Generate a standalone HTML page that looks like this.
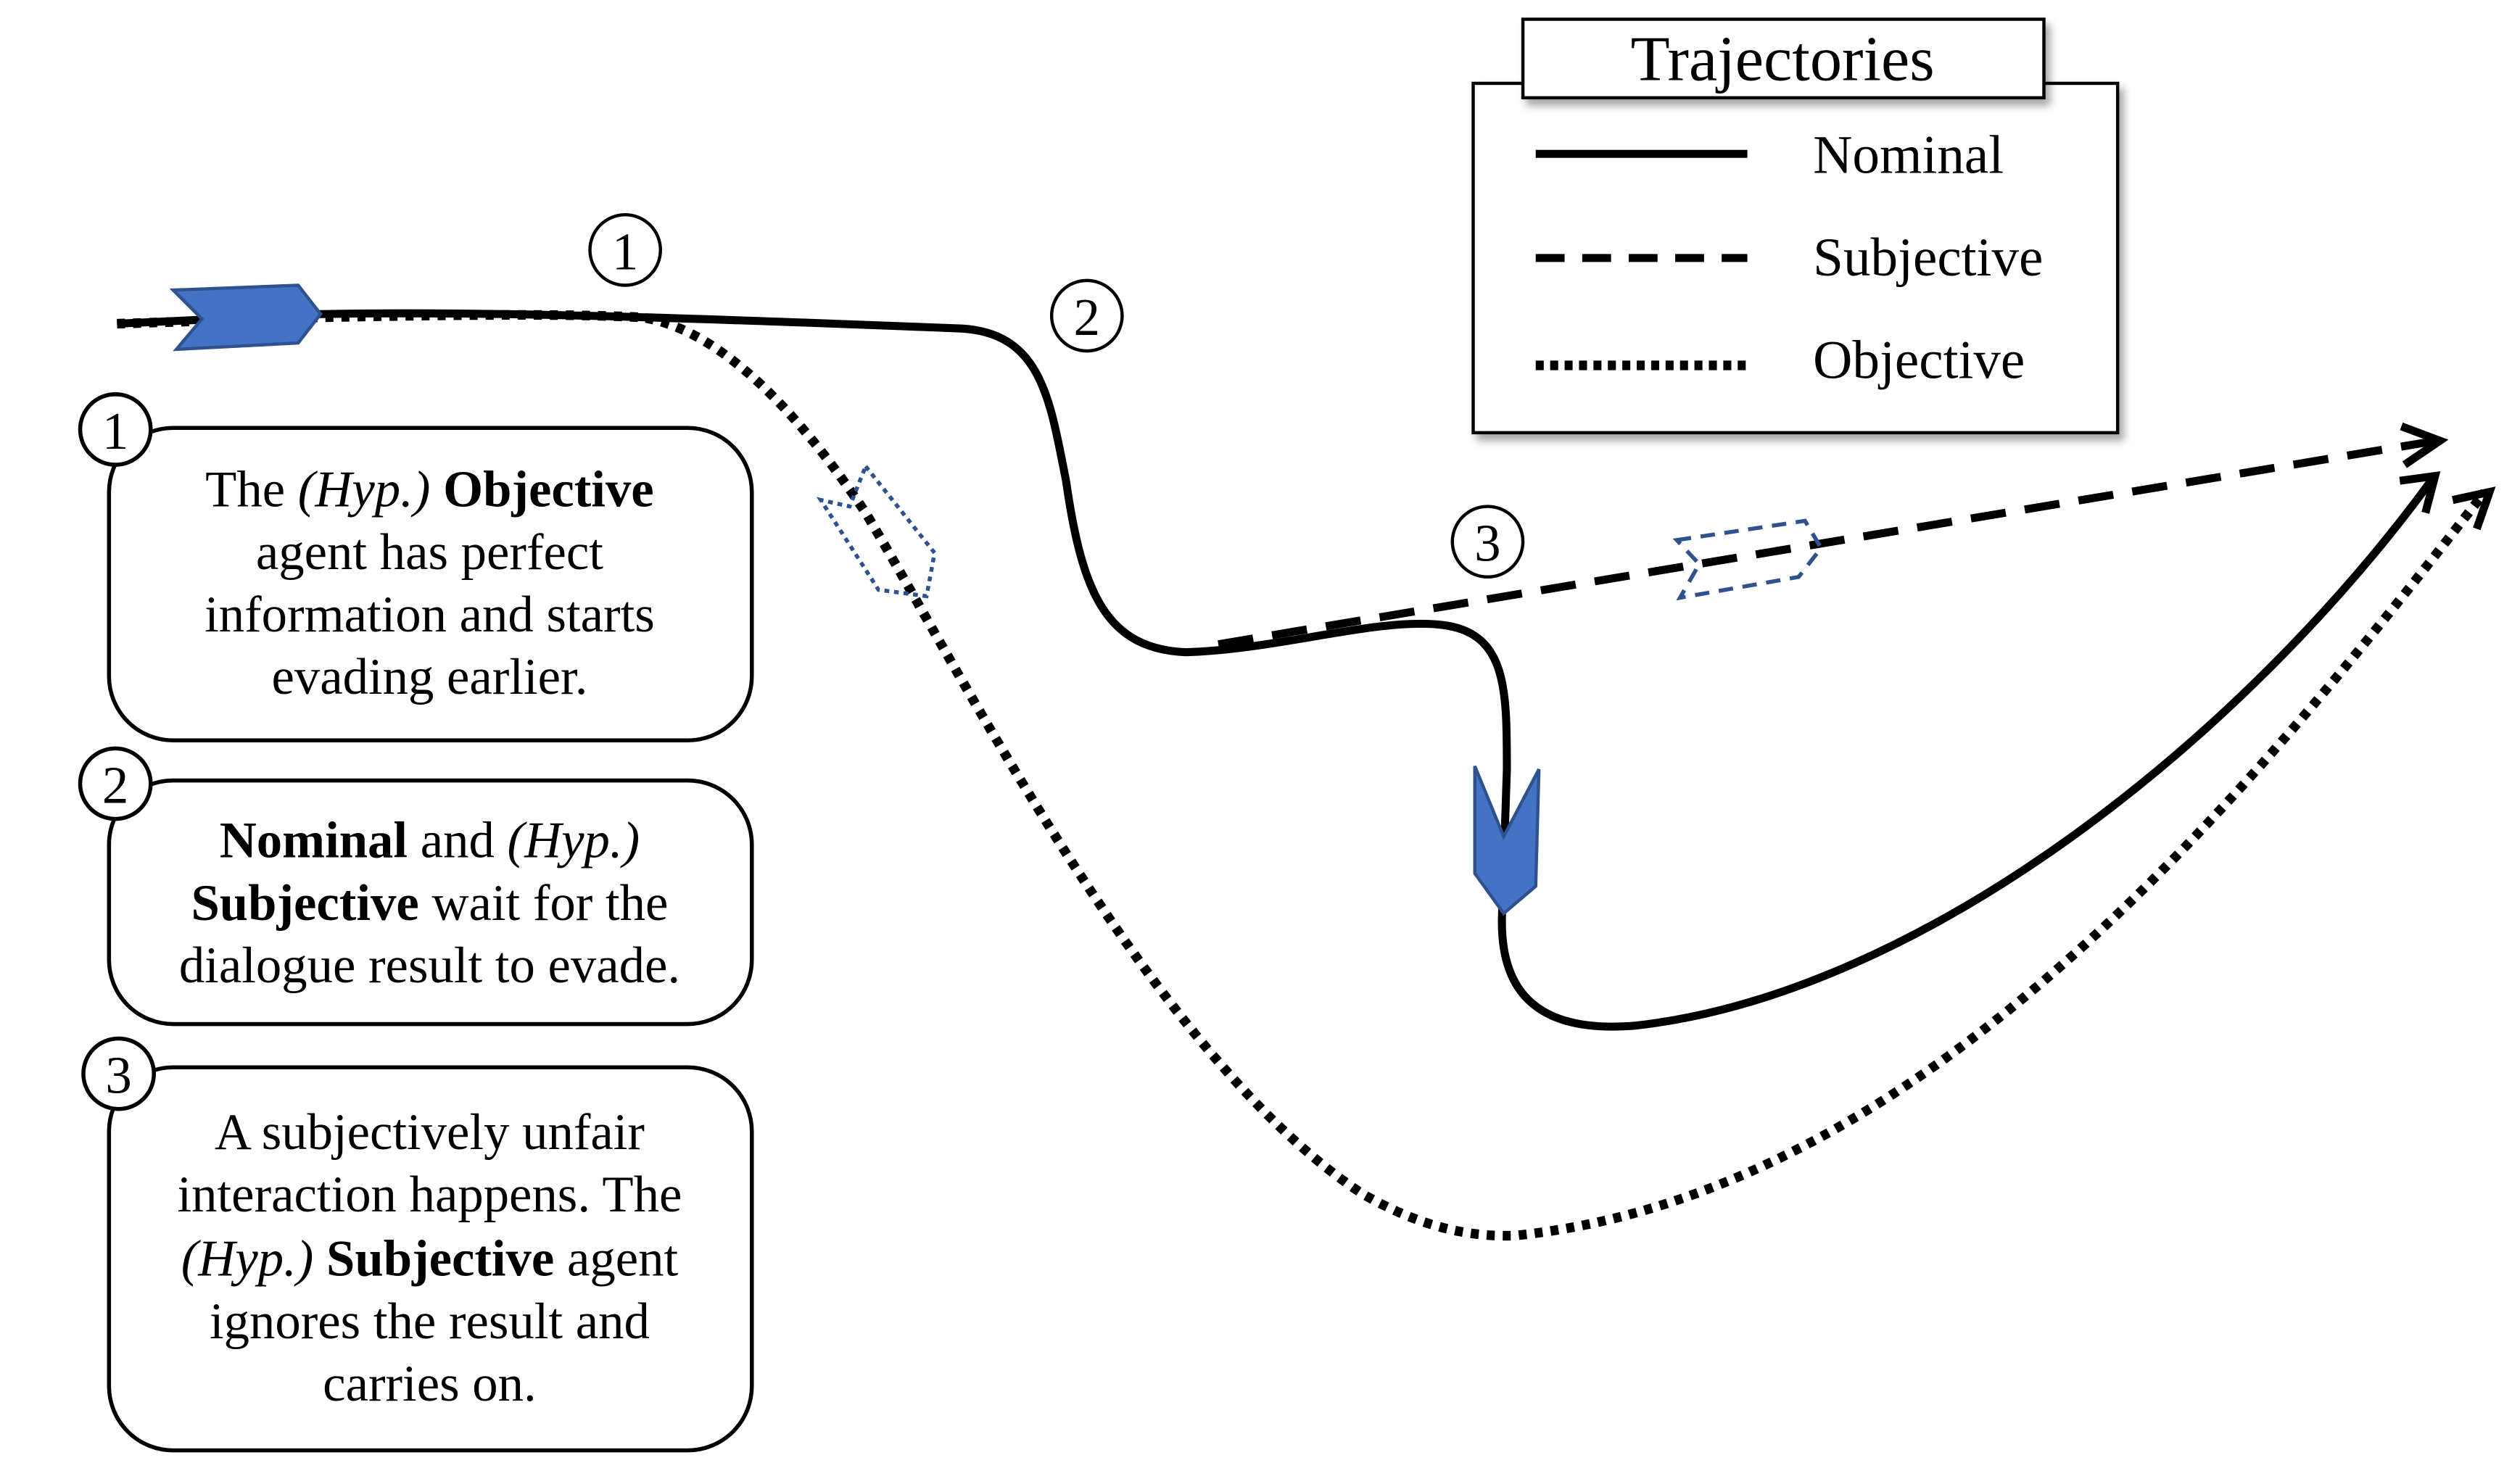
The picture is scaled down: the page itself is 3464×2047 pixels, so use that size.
<!DOCTYPE html>
<html><head><meta charset="utf-8"><style>
html,body{margin:0;padding:0;background:#fff;}
svg{display:block;}
text{font-family:"Liberation Serif",serif;fill:#000;}
</style></head><body>
<svg width="3464" height="2047" viewBox="0 0 1567 926" xmlns="http://www.w3.org/2000/svg">
<defs>
<filter id="sh" x="-10%" y="-10%" width="130%" height="130%"><feDropShadow dx="3" dy="4" stdDeviation="2.5" flood-color="#000" flood-opacity="0.35"/></filter>
</defs>
<!-- legend -->
<rect x="919" y="52" width="402" height="218" fill="#fff" stroke="#000" stroke-width="2" filter="url(#sh)"/>
<rect x="950" y="12" width="325" height="49" fill="#fff" stroke="#000" stroke-width="2" filter="url(#sh)"/>
<text x="1112" y="50" font-size="40" text-anchor="middle">Trajectories</text>
<line x1="958" y1="96" x2="1090" y2="96" stroke="#000" stroke-width="5"/>
<line x1="958" y1="161" x2="1090" y2="161" stroke="#000" stroke-width="5" stroke-dasharray="18,11"/>
<line x1="958" y1="228" x2="1090" y2="228" stroke="#000" stroke-width="6" stroke-dasharray="5,4"/>
<text x="1131" y="108" font-size="34">Nominal</text>
<text x="1131" y="172" font-size="34">Subjective</text>
<text x="1131" y="236" font-size="34">Objective</text>

<!-- trajectories -->
<g fill="none" stroke="#000">
<path d="M73,202 L200,196 C300,194 420,198 600,205 C650,208 655,250 665,300 C675,370 690,405 740,407 C800,405 860,385 900,390 C940,395 940,430 940,480 L937,570 C935,620 960,645 1020,640 C1200,620 1400,460 1518,298" stroke-width="5"/>
<path d="M1497,300 L1519,297 L1513,320" stroke-width="5"/>
<path d="M760,402 L1520,275" stroke-width="5" stroke-dasharray="22,12"/>
<path d="M1498,266 L1522,275 L1500,290" stroke-width="5"/>
<path d="M73,202 L200,198 C300,196 360,196 400,198 C450,205 500,260 540,320 C600,420 720,660 850,745 C885,765 915,772 945,771 C1200,745 1400,500 1550,307" stroke-width="6" stroke-dasharray="5,5"/>
<path d="M1530,312 L1553,307 L1545,330" stroke-width="5"/>
</g>

<!-- blue arrows -->
<polygon points="108,181 186,178 200,196 186,214 110,218 126,199" fill="#4472C4" stroke="#2F528F" stroke-width="2"/>
<polygon points="920,478 938,522 960,480 958,553 938,570 920,545" fill="#4472C4" stroke="#2F528F" stroke-width="2"/>
<polygon points="540,291 583,345 578,372 548,368 512,312 530,316" fill="none" stroke="#2F528F" stroke-width="2.5" stroke-dasharray="3,3"/>
<polygon points="1046,337 1126,325 1136,342 1122,360 1048,373 1060,352" fill="none" stroke="#2F528F" stroke-width="2.5" stroke-dasharray="9,6"/>

<!-- circled numbers on trajectory -->
<g fill="#fff" stroke="#000" stroke-width="2">
<circle cx="390" cy="156" r="22"/>
<circle cx="678" cy="197" r="22"/>
<circle cx="928" cy="338" r="22"/>
</g>
<text x="390" y="168" font-size="33" text-anchor="middle">1</text>
<text x="678" y="209" font-size="33" text-anchor="middle">2</text>
<text x="928" y="350" font-size="33" text-anchor="middle">3</text>

<!-- text boxes -->
<g fill="#fff" stroke="#000" stroke-width="2.5">
<rect x="68" y="267" width="401" height="195" rx="40"/>
<rect x="68" y="487" width="401" height="152" rx="40"/>
<rect x="68" y="666" width="401" height="239" rx="40"/>
<circle cx="72" cy="268" r="22"/>
<circle cx="72" cy="489" r="22"/>
<circle cx="74" cy="670" r="22"/>
</g>
<text x="72" y="280" font-size="33" text-anchor="middle">1</text>
<text x="72" y="501" font-size="33" text-anchor="middle">2</text>
<text x="74" y="682" font-size="33" text-anchor="middle">3</text>

<g font-size="32" text-anchor="middle">
<text x="268" y="316">The <tspan font-style="italic">(Hyp.)</tspan> <tspan font-weight="bold">Objective</tspan></text>
<text x="268" y="355">agent has perfect</text>
<text x="268" y="394">information and starts</text>
<text x="268" y="433">evading earlier.</text>

<text x="268" y="535"><tspan font-weight="bold">Nominal</tspan> and <tspan font-style="italic">(Hyp.)</tspan></text>
<text x="268" y="574"><tspan font-weight="bold">Subjective</tspan> wait for the</text>
<text x="268" y="613">dialogue result to evade.</text>

<text x="268" y="717">A subjectively unfair</text>
<text x="268" y="756">interaction happens. The</text>
<text x="268" y="796"><tspan font-style="italic">(Hyp.)</tspan> <tspan font-weight="bold">Subjective</tspan> agent</text>
<text x="268" y="835">ignores the result and</text>
<text x="268" y="874">carries on.</text>
</g>
</svg>
</body></html>
